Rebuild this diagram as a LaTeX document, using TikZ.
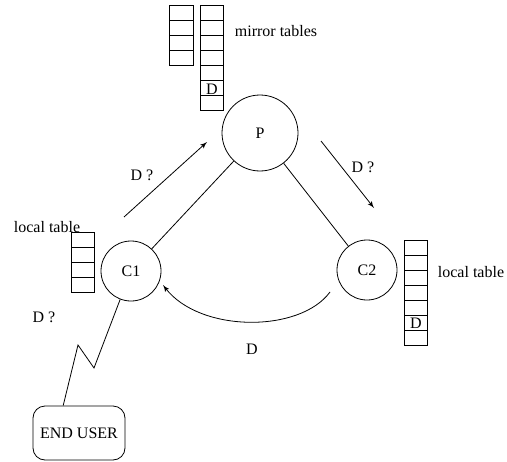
\documentclass[tikz,border=0pt]{standalone}
\usepackage{fontspec}
\setmainfont{Liberation Serif}
\usetikzlibrary{arrows}

\begin{document}
\begin{tikzpicture}[x=0.625pt,y=-0.625pt,>=latex',line width=0.5pt,
  site/.style={draw=black, circle, inner sep=0pt},
  user/.style={draw=black, rounded corners=7.5pt, minimum width=57.5pt, minimum height=33.75pt, inner sep=0pt},
  cell/.style={draw=black}]
\useasboundingbox (0,0) rectangle (507,462);

% sites
\node[site, minimum size=47.5pt] (P) at (260,133) {P};
\node[site, minimum size=37.5pt] (C1) at (131,271) {C1};
\node[site, minimum size=37.5pt] (C2) at (367,270) {C2};
\node[user] (U) at (79,433) {END USER};

% tables
\foreach \i in {0,...,3} \draw[cell] (169,5+15*\i) rectangle ++(24,15);
\foreach \i in {0,...,6} \draw[cell] (200,5+15.1*\i) rectangle ++(23,15.1);
\foreach \i in {0,...,3} \draw[cell] (71,232+15.2*\i) rectangle ++(23,15.2);
\foreach \i in {0,...,6} \draw[cell] (404,240+15*\i) rectangle ++(23,15);
\node (Dm) at (212,89) {D};
\node (Dl) at (416,323) {D};

% labels
\node (mt) at (276,31) {mirror tables};
\node (lt1) at (47,227) {local table};
\node (lt2) at (471,272) {local table};
\node (q1) at (142,175) {D ?};
\node (q2) at (363,167) {D ?};
\node (q3) at (44,317) {D ?};
\node (dd) at (252,349) {D};

% links
\draw (C1) -- (P);
\draw (P) -- (C2);
\coordinate (z1) at (94,368);
\coordinate (z2) at (78,345);
\draw (C1) -- (z1) -- (z2) -- (U.120);

% messages
\coordinate (a1) at (124,217);
\coordinate (a2) at (207,142);
\coordinate (b1) at (321,141);
\coordinate (b2) at (374,208);
\coordinate (c1) at (330,292);
\coordinate (c2) at (163,285);
\draw[->] (a1) -- (a2);
\draw[->] (b1) -- (b2);
\draw[->] (c1) .. controls (300,333) and (200,333) .. (c2);
\end{tikzpicture}
\end{document}
